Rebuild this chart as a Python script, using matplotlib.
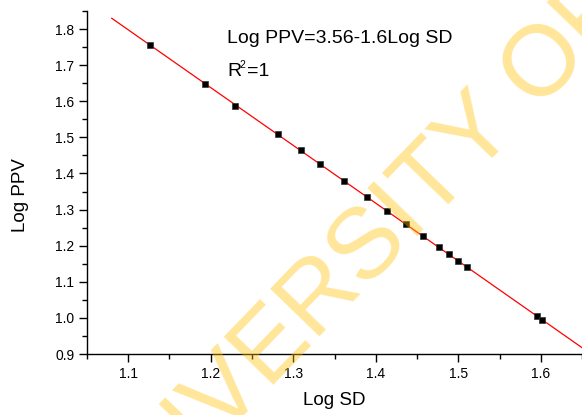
import numpy as np
import matplotlib
matplotlib.use("Agg")
import matplotlib.pyplot as plt
import matplotlib.transforms as mtransforms
from matplotlib.ticker import MultipleLocator

plt.rcParams['font.family'] = ['Liberation Sans', 'DejaVu Sans']

# data
log_sd = [1.126, 1.193, 1.230, 1.282, 1.309, 1.332, 1.362, 1.389,
          1.414, 1.437, 1.457, 1.477, 1.489, 1.500, 1.510, 1.596, 1.602]
log_ppv = [1.756, 1.648, 1.588, 1.508, 1.464, 1.426, 1.380, 1.336,
           1.296, 1.259, 1.226, 1.195, 1.176, 1.157, 1.141, 1.004, 0.993]

# fit line, as in the text box
slope, intercept = np.polyfit(log_sd, log_ppv, 1)
fit_x = np.array([1.08, 1.70])
fit_y = intercept + slope * fit_x

fig = plt.figure(figsize=(5.82, 4.15), dpi=100)
ax = fig.add_axes([87/582, 1 - 354/415, 1 - 87/582, (354 - 11)/415])

ax.plot(fit_x, fit_y, color='red', lw=0.9, zorder=2)
ax.plot(log_sd, log_ppv, 's', color='black', ms=4.3, mec='#333333', mew=0.5, zorder=3)

ax.set_xlim(1.05, 1.65)
ax.set_ylim(0.9, 1.85)
ax.xaxis.set_major_locator(MultipleLocator(0.1))
ax.xaxis.set_minor_locator(MultipleLocator(0.05))
ax.yaxis.set_major_locator(MultipleLocator(0.1))
ax.yaxis.set_minor_locator(MultipleLocator(0.05))
ax.xaxis.set_major_formatter(lambda v, p: f"{v:.1f}")
ax.yaxis.set_major_formatter(lambda v, p: f"{v:.1f}")

for s in ['top', 'right']:
    ax.spines[s].set_visible(False)
for s in ['left', 'bottom']:
    ax.spines[s].set_linewidth(1.0)

ax.tick_params(which='major', direction='out', length=5.5, width=1.0, labelsize=10, pad=3.5)
ax.tick_params(which='minor', direction='out', length=3.5, width=1.0)

ax.set_xlabel('Log SD', fontsize=13.5)
ax.set_ylabel('Log PPV', fontsize=13.5)
ax.xaxis.set_label_coords(0.5, -0.112)
ax.yaxis.set_label_coords(-0.117, 0.464)

ax.text(0.283, 0.907, 'Log PPV=3.56-1.6Log SD', transform=ax.transAxes,
        fontsize=14, va='baseline', ha='left')
# R^2=1 built from pieces so the superscript stays small
ax.text(0.283, 0.810, 'R', transform=ax.transAxes,
        fontsize=14, va='baseline', ha='left')
sup = mtransforms.offset_copy(ax.transAxes, fig=fig, x=8.8, y=6.0, units='points')
ax.text(0.283, 0.810, '2', transform=sup, fontsize=7.5, va='baseline', ha='left')
rest = mtransforms.offset_copy(ax.transAxes, fig=fig, x=14.4, y=0, units='points')
ax.text(0.283, 0.810, '=1', transform=rest, fontsize=14, va='baseline', ha='left')

# watermark
fig.text(102.0/582, 1 - 562.8/415, 'UNIVERSITY OF IBADAN', fontsize=72,
         color='#FFC000', alpha=0.4, rotation=46, rotation_mode='anchor',
         ha='left', va='baseline', zorder=10)

fig.savefig('out.png', dpi=100)
